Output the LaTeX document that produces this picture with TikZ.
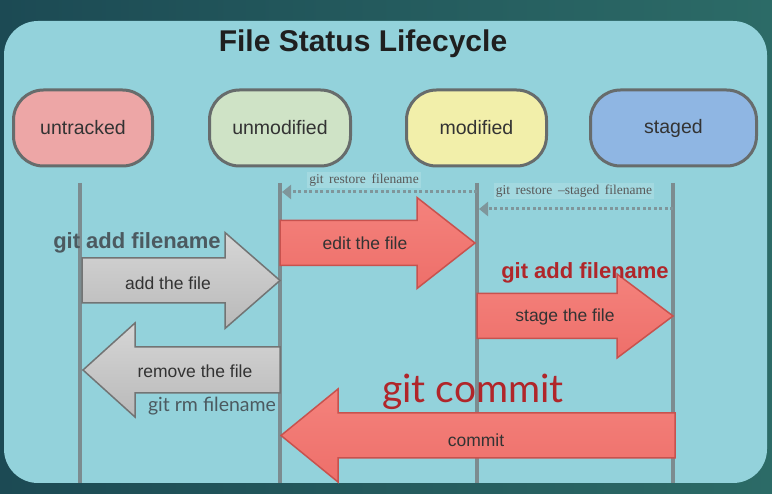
\documentclass[tikz,border=0pt]{standalone}
\usepackage{fontspec}
\setmainfont{Liberation Sans}
\newfontfamily\serifgit{Liberation Serif}
\newfontfamily\gillish{Lato}
\usetikzlibrary{arrows.meta}
\definecolor{bgL}{HTML}{1C4A54}
\definecolor{bgR}{HTML}{2C6B67}
\definecolor{panelc}{HTML}{93D2DB}
\definecolor{pinkc}{HTML}{EDA6A6}
\definecolor{greenc}{HTML}{CFE3C6}
\definecolor{yellowc}{HTML}{F2EFAA}
\definecolor{bluec}{HTML}{8FB6E3}
\definecolor{statebd}{HTML}{676C6C}
\definecolor{lifec}{HTML}{7C8C90}
\definecolor{redf}{HTML}{EE6F6A}
\definecolor{redt}{HTML}{F4827C}
\definecolor{redbd}{HTML}{C8524E}
\definecolor{grayt}{HTML}{D6D6D6}
\definecolor{grayb}{HTML}{B9B9B9}
\definecolor{graybd}{HTML}{727474}
\definecolor{labgray}{HTML}{4C5A60}
\definecolor{labred}{HTML}{B0262A}
\definecolor{dotc}{HTML}{7F969B}
\definecolor{txtc}{HTML}{333333}
\newcommand\blockarrow[7]{%
  \draw[#1] ({#2},{#5-#6}) -- ({#3},{#5-#6}) -- ({#3},{#5-#7}) -- ({#4},{#5})
    -- ({#3},{#5+#7}) -- ({#3},{#5+#6}) -- ({#2},{#5+#6}) -- cycle;}
\begin{document}
\begin{tikzpicture}[x=1pt,y=-1pt,
  state/.style={draw=statebd, line width=3pt, rounded corners=30pt,
    minimum height=76pt, text=txtc, font=\fontsize{19.5}{21}\selectfont},
  life/.style={draw=lifec, line width=4pt},
  redarrow/.style={draw=redbd, line width=1.5pt, top color=redt, bottom color=redf, line join=miter},
  grayarrow/.style={draw=graybd, line width=1.5pt, top color=grayt, bottom color=grayb, line join=miter},
  arrowtext/.style={font=\fontsize{17.5}{19}\selectfont, text=txtc},
  dotline/.style={draw=dotc, line width=3pt, dash pattern=on 3pt off 2.5pt,
    -{Triangle[width=14pt,length=9pt,fill=dotc]}},
  restoretext/.style={font=\serifgit\fontsize{13.5}{15}\selectfont, text=black!65, fill=white!15!panelc, inner sep=2pt}
]
\useasboundingbox (0,0) rectangle (772,494);
\shade[left color=bgL, right color=bgR] (0,0) rectangle (772,494);
\fill[panelc, rounded corners=34pt] (4,21) rectangle (767,483);

\node[font=\bfseries\fontsize{30}{32}\selectfont, text=black!88] (title) at (363,44) {File Status Lifecycle};

\node[state, fill=pinkc, minimum width=139pt] (untracked) at (83,128) {untracked};
\node[state, fill=greenc, minimum width=141pt] (unmodified) at (280,128) {unmodified};
\node[state, fill=yellowc, minimum width=140pt] (modified) at (476.5,128) {modified};
\node[state, fill=bluec, minimum width=166pt] (staged) at (673.5,128) {staged};

\coordinate (l1t) at (80,183);  \coordinate (l1b) at (80,483);
\coordinate (l2t) at (280,183); \coordinate (l2b) at (280,483);
\coordinate (l3t) at (477,183); \coordinate (l3b) at (477,483);
\coordinate (l4t) at (673,183); \coordinate (l4b) at (673,483);
\draw[life] (l1t) -- (l1b);
\draw[life] (l2t) -- (l2b);
\draw[life] (l3t) -- (l3b);
\draw[life] (l4t) -- (l4b);

% restore arrows
\node[restoretext] (rest1) at (364,180) {git\, restore\, filename};
\node[restoretext] (rest2) at (574,191) {git\, restore\, \textendash staged\, filename};
\coordinate (d1s) at (477,192); \coordinate (d1e) at (282,192);
\coordinate (d2s) at (673,209); \coordinate (d2e) at (479,209);
\draw[dotline] (d1s) -- (d1e);
\draw[dotline] (d2s) -- (d2e);

% block arrows
\blockarrow{grayarrow}{82}{225}{280}{280.5}{22.5}{48}
\node[arrowtext] (addf) at (168,283) {add the file};
\blockarrow{grayarrow}{280}{135}{83}{370}{23}{47}
\node[arrowtext] (remf) at (195,371) {remove the file};
\blockarrow{redarrow}{280}{417}{475}{243}{22.5}{45.5}
\node[arrowtext] (editf) at (365,243) {edit the file};
\blockarrow{redarrow}{477}{617}{673}{316}{22.5}{42}
\node[arrowtext] (stagef) at (565,317) {stage the file};
\blockarrow{redarrow}{675}{338}{281}{435.5}{22.5}{46.5}
\node[arrowtext] (commitf) at (476,440) {commit};

% labels
\node[font=\bfseries\fontsize{22}{24}\selectfont, text=labgray] (lab1) at (137,243) {git add filename};
\node[font=\bfseries\fontsize{22}{24}\selectfont, text=labred] (lab2) at (585,273) {git add filename};
\node[font=\gillish\fontsize{19.5}{21}\selectfont, text=labgray] (lab3) at (212,406) {git rm filename};
\node[font=\gillish\fontsize{39}{42}\selectfont, text=labred, anchor=base] (lab4) at (473,403) {git commit};
\end{tikzpicture}
\end{document}
